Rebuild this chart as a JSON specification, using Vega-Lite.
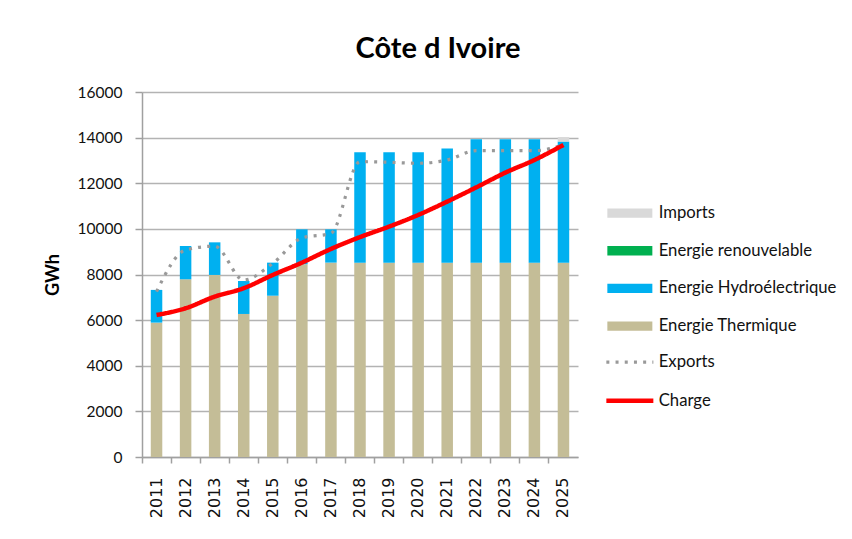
{
  "$schema": "https://vega.github.io/schema/vega-lite/v6.json",
  "width": 436,
  "height": 365,
  "autosize": {"type": "none"},
  "padding": {"left": 142, "top": 92, "right": 274, "bottom": 82},
  "background": "white",
  "title": {
    "text": "Côte d Ivoire",
    "font": "Lato",
    "fontSize": 29,
    "fontWeight": "bold",
    "color": "#000000",
    "anchor": "middle",
    "frame": "group",
    "baseline": "alphabetic",
    "dx": 78,
    "offset": -2
  },
  "config": {
    "view": {"stroke": null},
    "font": "Lato",
    "legend": {"padding": 0}
  },
  "datasets": {
    "bars": [
      {"year": "2011", "source": "Energie Thermique", "value": 5890},
      {"year": "2012", "source": "Energie Thermique", "value": 7790},
      {"year": "2013", "source": "Energie Thermique", "value": 7980},
      {"year": "2014", "source": "Energie Thermique", "value": 6270},
      {"year": "2015", "source": "Energie Thermique", "value": 7070},
      {"year": "2016", "source": "Energie Thermique", "value": 8450},
      {"year": "2017", "source": "Energie Thermique", "value": 8520},
      {"year": "2018", "source": "Energie Thermique", "value": 8520},
      {"year": "2019", "source": "Energie Thermique", "value": 8520},
      {"year": "2020", "source": "Energie Thermique", "value": 8520},
      {"year": "2021", "source": "Energie Thermique", "value": 8520},
      {"year": "2022", "source": "Energie Thermique", "value": 8520},
      {"year": "2023", "source": "Energie Thermique", "value": 8520},
      {"year": "2024", "source": "Energie Thermique", "value": 8520},
      {"year": "2025", "source": "Energie Thermique", "value": 8520},
      {"year": "2011", "source": "Energie Hydroélectrique", "value": 1435},
      {"year": "2012", "source": "Energie Hydroélectrique", "value": 1460},
      {"year": "2013", "source": "Energie Hydroélectrique", "value": 1430},
      {"year": "2014", "source": "Energie Hydroélectrique", "value": 1445},
      {"year": "2015", "source": "Energie Hydroélectrique", "value": 1450},
      {"year": "2016", "source": "Energie Hydroélectrique", "value": 1530},
      {"year": "2017", "source": "Energie Hydroélectrique", "value": 1460},
      {"year": "2018", "source": "Energie Hydroélectrique", "value": 4840},
      {"year": "2019", "source": "Energie Hydroélectrique", "value": 4840},
      {"year": "2020", "source": "Energie Hydroélectrique", "value": 4840},
      {"year": "2021", "source": "Energie Hydroélectrique", "value": 5000},
      {"year": "2022", "source": "Energie Hydroélectrique", "value": 5410},
      {"year": "2023", "source": "Energie Hydroélectrique", "value": 5410},
      {"year": "2024", "source": "Energie Hydroélectrique", "value": 5410},
      {"year": "2025", "source": "Energie Hydroélectrique", "value": 5305},
      {"year": "2025", "source": "Imports", "value": 200}
    ],
    "lines": [
      {"year": "2011", "series": "Exports", "value": 7250},
      {"year": "2012", "series": "Exports", "value": 9075},
      {"year": "2013", "series": "Exports", "value": 9240},
      {"year": "2014", "series": "Exports", "value": 7760},
      {"year": "2015", "series": "Exports", "value": 8490},
      {"year": "2016", "series": "Exports", "value": 9600},
      {"year": "2017", "series": "Exports", "value": 9805},
      {"year": "2018", "series": "Exports", "value": 12945},
      {"year": "2019", "series": "Exports", "value": 12920},
      {"year": "2020", "series": "Exports", "value": 12875},
      {"year": "2021", "series": "Exports", "value": 13020},
      {"year": "2022", "series": "Exports", "value": 13430},
      {"year": "2023", "series": "Exports", "value": 13430},
      {"year": "2024", "series": "Exports", "value": 13430},
      {"year": "2025", "series": "Exports", "value": 13680},
      {"year": "2011", "series": "Charge", "value": 6225},
      {"year": "2012", "series": "Charge", "value": 6520},
      {"year": "2013", "series": "Charge", "value": 7030},
      {"year": "2014", "series": "Charge", "value": 7400},
      {"year": "2015", "series": "Charge", "value": 7980},
      {"year": "2016", "series": "Charge", "value": 8520},
      {"year": "2017", "series": "Charge", "value": 9120},
      {"year": "2018", "series": "Charge", "value": 9640},
      {"year": "2019", "series": "Charge", "value": 10100},
      {"year": "2020", "series": "Charge", "value": 10610},
      {"year": "2021", "series": "Charge", "value": 11195},
      {"year": "2022", "series": "Charge", "value": 11820},
      {"year": "2023", "series": "Charge", "value": 12465},
      {"year": "2024", "series": "Charge", "value": 13020},
      {"year": "2025", "series": "Charge", "value": 13680}
    ]
  },
  "layer": [
    {
      "data": {"name": "bars"},
      "mark": {"type": "bar", "size": 11.5},
      "encoding": {
        "x": {
          "field": "year",
          "type": "ordinal",
          "scale": {"paddingInner": 0, "paddingOuter": 0},
          "axis": {
            "title": null,
            "labelAngle": 270,
            "labelAlign": "right",
            "labelBaseline": "middle",
            "labelFont": "DejaVu Sans",
            "labelFontSize": 16,
            "labelColor": "#111111",
            "tickSize": 6,
            "labelPadding": 14,
            "bandPosition": 0,
            "domainColor": "#a0a0a0",
            "domainWidth": 1.5,
            "tickColor": "#a0a0a0",
            "tickWidth": 1.5,
            "grid": false
          }
        },
        "y": {
          "field": "value",
          "type": "quantitative",
          "stack": "zero",
          "scale": {"domain": [0, 16000], "nice": false},
          "axis": {
            "title": "GWh",
            "titleFont": "Lato",
            "titleFontSize": 18,
            "titleFontWeight": "bold",
            "titleColor": "#000000",
            "titlePadding": 15,
            "values": [0, 2000, 4000, 6000, 8000, 10000, 12000, 14000, 16000],
            "format": "d",
            "labelFont": "Lato",
            "labelFontSize": 15.5,
            "labelColor": "#111111",
            "tickSize": 7,
            "labelPadding": 13,
            "gridColor": "#b3b3b3",
            "gridWidth": 1.5,
            "domainColor": "#a0a0a0",
            "domainWidth": 1.5,
            "tickColor": "#a0a0a0",
            "tickWidth": 1.5
          }
        },
        "order": {"field": "value", "type": "quantitative", "sort": "descending"},
        "color": {
          "field": "source",
          "type": "nominal",
          "scale": {
            "domain": ["Energie Thermique", "Energie Hydroélectrique", "Energie renouvelable", "Imports"],
            "range": ["#c4bd97", "#00b0f0", "#00b050", "#d9d9d9"]
          },
          "legend": {
            "title": null,
            "orient": "none",
            "legendX": 479.5,
            "legendY": 112.7,
            "values": ["Imports", "Energie renouvelable", "Energie Hydroélectrique", "Energie Thermique"],
            "symbolType": "M-4.5,-0.93H4.5V0.93H-4.5Z",
            "symbolSize": 100,
            "symbolStrokeWidth": 0,
            "labelFont": "Lato",
            "labelFontSize": 16.7,
            "labelColor": "#111111",
            "labelOffset": 20.5,
            "rowPadding": 19.7,
            "labelLimit": 300
          }
        }
      }
    },
    {
      "data": {"name": "lines"},
      "mark": {"type": "line", "interpolate": "monotone", "strokeCap": "butt"},
      "encoding": {
        "x": {"field": "year", "type": "ordinal"},
        "y": {"field": "value", "type": "quantitative"},
        "stroke": {
          "field": "series",
          "type": "nominal",
          "scale": {"domain": ["Exports", "Charge"], "range": ["#999999", "#ff0000"]},
          "legend": {
            "title": null,
            "orient": "none",
            "legendX": 479.5,
            "legendY": 261.7,
            "symbolType": "M-4.7,0H4.7",
            "symbolSize": 100,
            "symbolFillColor": "transparent",
            "labelFont": "Lato",
            "labelFontSize": 16.7,
            "labelColor": "#111111",
            "labelOffset": 20.5,
            "rowPadding": 19.7,
            "labelLimit": 300
          }
        },
        "strokeDash": {
          "field": "series",
          "type": "nominal",
          "scale": {"domain": ["Exports", "Charge"], "range": [[3, 6.2], [1, 0]]},
          "legend": {
            "title": null,
            "orient": "none",
            "legendX": 479.5,
            "legendY": 261.7,
            "symbolType": "M-4.7,0H4.7",
            "symbolSize": 100,
            "symbolFillColor": "transparent",
            "labelFont": "Lato",
            "labelFontSize": 16.7,
            "labelColor": "#111111",
            "labelOffset": 20.5,
            "rowPadding": 19.7,
            "labelLimit": 300
          }
        },
        "strokeWidth": {
          "field": "series",
          "type": "nominal",
          "scale": {"domain": ["Exports", "Charge"], "range": [3.2, 4.5]},
          "legend": {
            "title": null,
            "orient": "none",
            "legendX": 479.5,
            "legendY": 261.7,
            "symbolType": "M-4.7,0H4.7",
            "symbolSize": 100,
            "symbolFillColor": "transparent",
            "labelFont": "Lato",
            "labelFontSize": 16.7,
            "labelColor": "#111111",
            "labelOffset": 20.5,
            "rowPadding": 19.7,
            "labelLimit": 300
          }
        }
      }
    }
  ]
}
